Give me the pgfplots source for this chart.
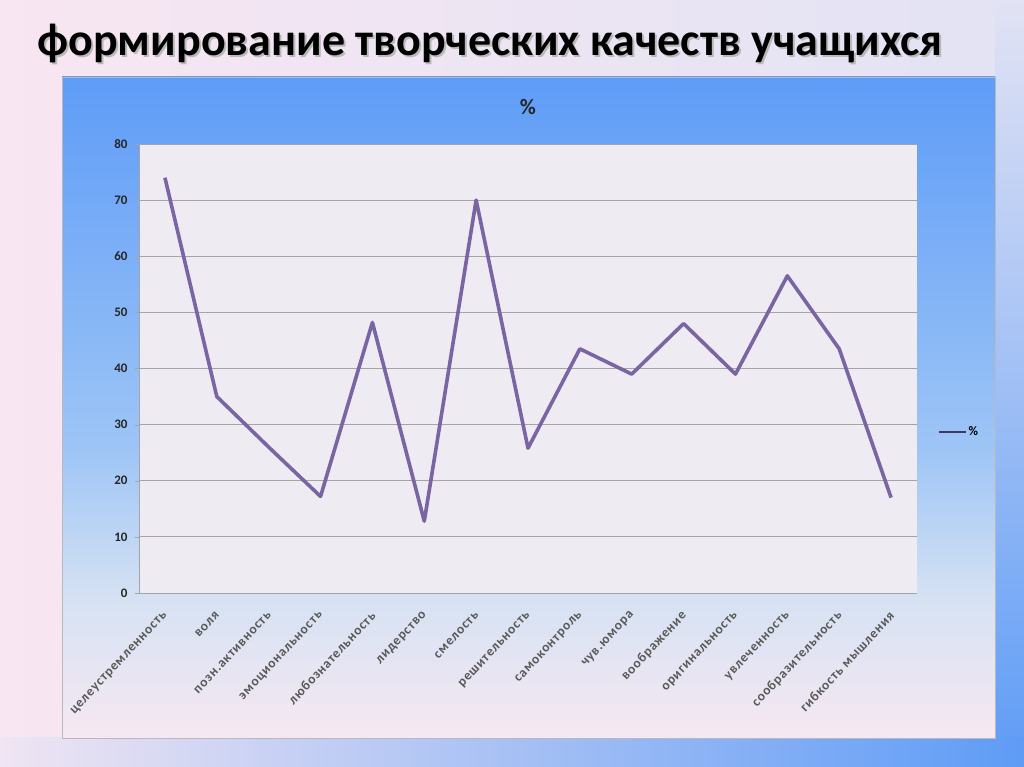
\documentclass[border=0pt]{standalone}
\usepackage{pgfplots}
\pgfplotsset{compat=1.18}
\usepackage{fontspec}
\setmainfont{Carlito}
\newfontfamily\lblfont[LetterSpace=6]{Carlito}
\definecolor{linec}{HTML}{7A65A3}
\definecolor{gridc}{HTML}{A4A4A4}
\definecolor{plotbg}{HTML}{EEEBF3}
\definecolor{bgpink}{HTML}{F8E6F2}
\definecolor{bglav}{HTML}{E2E3F4}
\definecolor{bblue}{HTML}{5E9CF6}
\definecolor{cA}{HTML}{F6E8F2}
\definecolor{cB}{HTML}{D6E2F3}
\definecolor{cC}{HTML}{9EC5F6}
\definecolor{cD}{HTML}{5E9CF7}
\begin{document}
\begin{tikzpicture}[x=1pt,y=1pt]
\path[use as bounding box] (0,0) rectangle (1024,767);
% slide background
\shade[left color=bgpink, right color=bglav] (0,0) rectangle (1024,767);
\shade[top color=bglav, bottom color=bblue] (995,0) rectangle (1024,767);
\shade[left color=bgpink!60!bglav, right color=bblue] (0,0) rectangle (1024,29);
% chart area
\shade[bottom color=cA, top color=cB] (62,29) rectangle (995,167);
\shade[bottom color=cB, top color=cC] (62,167) rectangle (995,317);
\shade[bottom color=cC, top color=cD] (62,317) rectangle (995,690);
\draw[gray!55, line width=0.8pt] (62,29) rectangle (995,690);
% titles
\node[font=\bfseries\fontsize{46}{48}\selectfont, text=gray!55, anchor=base] at (492,709) {формирование творческих качеств учащихся};
\node[font=\bfseries\fontsize{46}{48}\selectfont, text=black, anchor=base] at (490,711) {формирование творческих качеств учащихся};
\node[font=\bfseries\fontsize{22}{24}\selectfont, text=black!85] at (528,660) {\%};
\begin{axis}[
  at={(139pt,174pt)}, anchor=south west,
  width=778pt, height=449pt, scale only axis,
  xmin=-0.5, xmax=14.5, ymin=0, ymax=80,
  axis background/.style={fill=plotbg},
  axis line style={gridc},
  axis x line*=bottom, axis y line*=left,
  ytick={0,10,...,80},
  ymajorgrids, grid style={gridc, line width=0.9pt},
  major tick length=4pt, tick align=outside,
  tick style={gridc},
  y tick label style={font=\bfseries\fontsize{13}{14}\selectfont, text=black!85, xshift=-4pt},
  /pgf/number format/assume math mode=true,
  xtick={0,...,14},
  x tick style={draw=none},
  xticklabels={целеустремленность, воля, позн.активность, эмоциональность, любознательность, лидерство, смелость, решительность, самоконтроль, чув.юмора, воображение, оригинальность, увлеченность, сообразительность, гибкость мышления},
  x tick label style={font=\lblfont\bfseries\fontsize{13.5}{14}\selectfont, text=black!65, anchor=east, xshift=3pt, yshift=-14pt, rotate=47},
  extra x ticks={-0.5,0.5,...,14.5},
  extra x tick labels={},
  extra x tick style={grid=none, major tick length=4pt, tick style={gridc,draw=gridc}},
  legend style={at={(1.027,0.359)}, anchor=west, draw=none, fill=none, font=\bfseries\fontsize{13}{14}\selectfont, inner sep=0pt},
  legend image code/.code={\draw[line width=1.5pt, draw=linec!55!black] (0pt,0pt) -- (27pt,0pt);},
  legend cell align=left,
  clip=false,
]
\addplot[color=linec, line width=3.6pt, line join=round, mark=none] coordinates {
(0,74) (1,35) (2,26) (3,17.2) (4,48.2) (5,12.8) (6,70) (7,25.8) (8,43.5) (9,39) (10,48) (11,39) (12,56.5) (13,43.5) (14,17)
};
\addlegendentry{\%}
\end{axis}
\end{tikzpicture}
\end{document}
